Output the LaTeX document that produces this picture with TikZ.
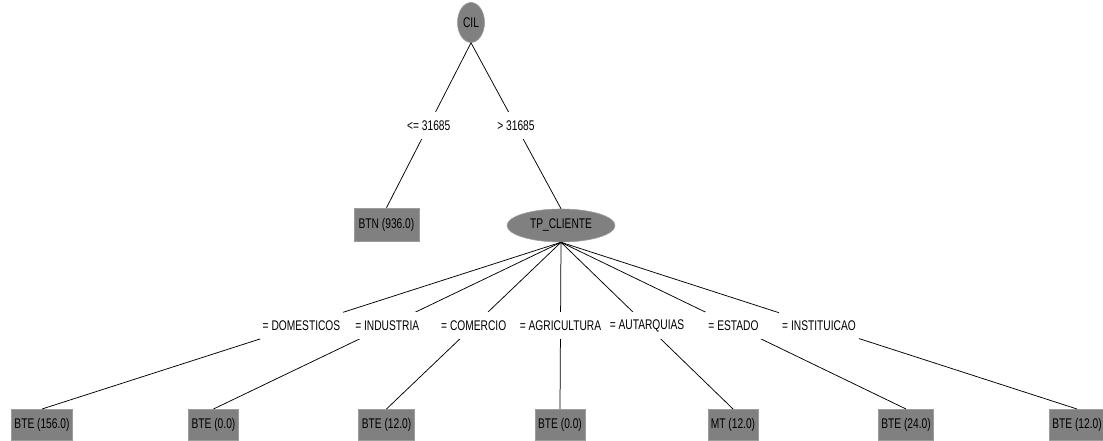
\documentclass[tikz,border=0pt]{standalone}
\usepackage{fontspec}
\setmainfont{Liberation Sans}[FakeStretch=0.73]
\usetikzlibrary{shapes.geometric}
\definecolor{nodegray}{HTML}{808080}
\definecolor{rimgray}{HTML}{9C9C9C}
\begin{document}
\begin{tikzpicture}[x=1pt,y=-1pt,
  every node/.style={font=\fontsize{14}{16}\selectfont, text=black},
  split/.style={ellipse, fill=nodegray, draw=rimgray, line width=0.6pt, inner sep=0pt},
  leaf/.style={rectangle, fill=nodegray, draw=rimgray, line width=0.6pt, inner xsep=3pt, minimum height=31pt},
  edge/.style={draw=black, line width=0.75pt},
  cond/.style={midway, fill=white, inner xsep=3pt, inner ysep=0pt, minimum height=27pt}]
  \useasboundingbox (0,0) rectangle (1103,441);

  % root test and the first split
  \node[split, minimum width=27pt, minimum height=40pt] (cil) at (471,22.5) {CIL};
  \node[leaf, minimum width=65pt, minimum height=33pt] (btn) at (386.5,224.5) {BTN (936.0)};
  \node[split, minimum width=108pt, minimum height=33pt] (tp) at (561,225.5) {TP\_CLIENTE};

  \path[edge] (cil.south) -- (btn.north) node[cond] (l1) {<= 31685};
  \path[edge] (cil.south) -- (tp.north) node[cond] (l2) {> 31685};

  % leaves under TP_CLIENTE
  \node[leaf, anchor=north] (f1) at (42,409)     {BTE (156.0)};
  \node[leaf, anchor=north] (f2) at (213.5,409)  {BTE (0.0)};
  \node[leaf, anchor=north] (f3) at (386.5,409)  {BTE (12.0)};
  \node[leaf, anchor=north] (f4) at (560,409)    {BTE (0.0)};
  \node[leaf, anchor=north] (f5) at (733,409)    {MT (12.0)};
  \node[leaf, anchor=north] (f6) at (906,409)    {BTE (24.0)};
  \node[leaf, anchor=north] (f7) at (1077,409)   {BTE (12.0)};

  \path[edge] (tp.south) -- (f1.north) node[cond] (c1) {= DOMESTICOS};
  \path[edge] (tp.south) -- (f2.north) node[cond] (c2) {= INDUSTRIA};
  \path[edge] (tp.south) -- (f3.north) node[cond] (c3) {= COMERCIO};
  \path[edge] (tp.south) -- (f4.north) node[cond] (c4) {= AGRICULTURA};
  \path[edge] (tp.south) -- (f5.north) node[cond] (c5) {= AUTARQUIAS};
  \path[edge] (tp.south) -- (f6.north) node[cond] (c6) {= ESTADO};
  \path[edge] (tp.south) -- (f7.north) node[cond] (c7) {= INSTITUICAO};
\end{tikzpicture}
\end{document}
